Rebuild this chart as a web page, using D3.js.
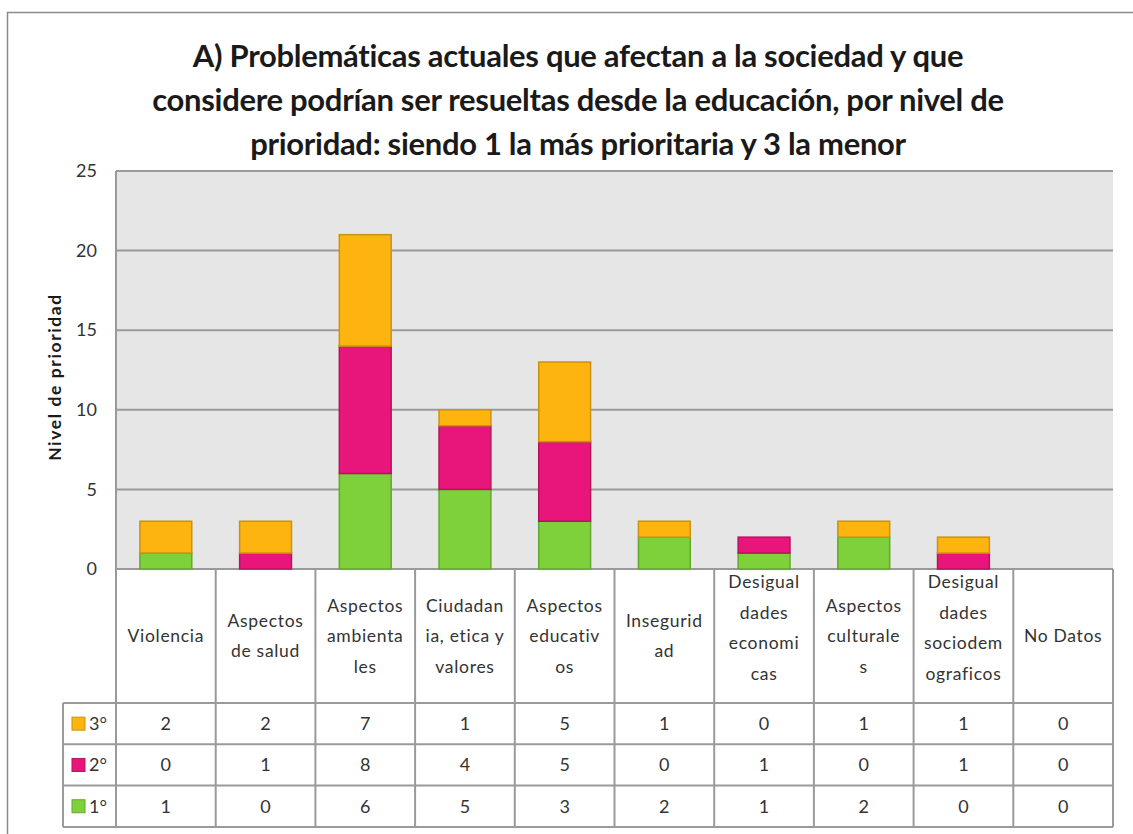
<!DOCTYPE html>
<html><head><meta charset="utf-8">
<script src="https://cdn.jsdelivr.net/npm/d3@7/dist/d3.min.js"></script>
<style>
body{margin:0;background:#fff;}
svg{display:block;}
</style></head>
<body>
<svg id="c" width="1133" height="834"></svg>
<script>
const categories = ["Violencia","Aspectos de salud","Aspectos ambientales","Ciudadania, etica y valores","Aspectos educativos","Inseguridad","Desigualdades economicas","Aspectos culturales","Desigualdades sociodemograficos","No Datos"];
const categoryLines = [["Violencia"],["Aspectos","de salud"],["Aspectos","ambienta","les"],["Ciudadan","ia, etica y","valores"],["Aspectos","educativ","os"],["Insegurid","ad"],["Desigual","dades","economi","cas"],["Aspectos","culturale","s"],["Desigual","dades","sociodem","ograficos"],["No Datos"]];
const seriesNames = ["1°","2°","3°"];
const primero = [1,0,6,5,3,2,1,2,0,0];
const segundo = [0,1,8,4,5,0,1,0,1,0];
const tercero = [2,2,7,1,5,1,0,1,1,0];
const yTicks = [0,5,10,15,20,25];
const titleLines = ["A) Problemáticas actuales que afectan a la sociedad y que","considere podrían ser resueltas desde la educación, por nivel de","prioridad: siendo 1 la más prioritaria y 3 la menor"];
const yTitle = "Nivel de prioridad";

const seriesValues = [primero, segundo, tercero];
const fills = ["#7FD13B","#E8167A","#FDB40F"];
const strokes = ["#62A82C","#B8125F","#C99212"];

const svg = d3.select("#c");
const font = "Lato, 'Open Sans', sans-serif";

// outer border
svg.append("rect").attr("x",7.5).attr("y",12.5).attr("width",1140).attr("height",840)
  .attr("fill","#fff").attr("stroke","#8a8a8a").attr("stroke-width",1.5);

// title
svg.append("g").selectAll("text").data(titleLines).join("text")
  .attr("x",578).attr("y",(d,i)=>67+i*44)
  .attr("text-anchor","middle").attr("font-family",font).attr("font-weight","bold")
  .attr("font-size",31).attr("letter-spacing",-0.3).attr("fill","#1a1a1a").text(d=>d);

const pLeft=116, pRight=1113, pTop=171, pBottom=569;
const x = d3.scaleBand().domain(categories).range([pLeft,pRight]).paddingInner(0).paddingOuter(0);
const y = d3.scaleLinear().domain([0,25]).range([pBottom,pTop]);

// plot background
svg.append("rect").attr("x",pLeft).attr("y",pTop).attr("width",pRight-pLeft).attr("height",pBottom-pTop)
  .attr("fill","#E6E6E6");
svg.append("line").attr("x1",pLeft).attr("x2",pLeft).attr("y1",pTop).attr("y2",pBottom)
  .attr("stroke","#999").attr("stroke-width",2);

// grid
svg.append("g").selectAll("line").data(yTicks).join("line")
  .attr("x1",pLeft).attr("x2",pRight).attr("y1",d=>y(d)).attr("y2",d=>y(d))
  .attr("stroke","#9a9a9a").attr("stroke-width",2);

// y axis labels
const yAxis = d3.axisLeft(y).tickValues(yTicks).tickSize(0).tickPadding(0);
const ya = svg.append("g").attr("transform",`translate(${pLeft-19},0)`).call(yAxis);
ya.select(".domain").remove();
ya.selectAll("text").attr("font-family",font).attr("font-size",18).attr("fill","#333").attr("text-anchor","end");

// y title
svg.append("text").attr("transform",`translate(61,377) rotate(-90)`)
  .attr("text-anchor","middle").attr("font-family",font).attr("font-weight","bold")
  .attr("font-size",17.5).attr("letter-spacing",1.6).attr("fill","#1a1a1a").text(yTitle);

// stacked bars
const rows = categories.map((c,i)=>({cat:c, s0:primero[i], s1:segundo[i], s2:tercero[i]}));
const stack = d3.stack().keys(["s0","s1","s2"])(rows);
const bw = x.bandwidth()*0.52;
svg.append("g").selectAll("g").data(stack).join("g")
  .attr("fill",(d,i)=>fills[i]).attr("stroke",(d,i)=>strokes[i]).attr("stroke-width",1.5)
  .selectAll("rect").data(d=>d.filter(p=>p[1]-p[0]>0)).join("rect")
  .attr("x",d=>x(d.data.cat)+(x.bandwidth()-bw)/2)
  .attr("width",bw)
  .attr("y",d=>y(d[1])).attr("height",d=>y(d[0])-y(d[1]));

// table
const tableTop = pBottom, headerBottom = 703, rowH = 41.3;
const legendLeft = 63;
const tg = svg.append("g");
const lineColor = "#9a9a9a";
categories.forEach((c,i)=>{
  tg.append("line").attr("x1",x(c)).attr("x2",x(c)).attr("y1",tableTop).attr("y2",headerBottom+3*rowH)
    .attr("stroke",lineColor).attr("stroke-width",2);
});
tg.append("line").attr("x1",pRight).attr("x2",pRight).attr("y1",tableTop).attr("y2",headerBottom+3*rowH)
  .attr("stroke",lineColor).attr("stroke-width",2);
tg.append("line").attr("x1",legendLeft).attr("x2",legendLeft).attr("y1",headerBottom).attr("y2",headerBottom+3*rowH)
  .attr("stroke",lineColor).attr("stroke-width",2);
[0,1,2,3].forEach(k=>{
  tg.append("line").attr("x1",legendLeft).attr("x2",pRight).attr("y1",headerBottom+k*rowH).attr("y2",headerBottom+k*rowH)
    .attr("stroke",lineColor).attr("stroke-width",2);
});
const lh = 30.5;
categories.forEach((c,i)=>{
  const lines = categoryLines[i];
  const cy = lines.length > 3 ? 628 : 636;
  const t = tg.append("text").attr("x",x(c)+x.bandwidth()/2).attr("text-anchor","middle")
    .attr("font-family",font).attr("font-size",17.5).attr("letter-spacing",0.7).attr("fill","#333");
  lines.forEach((l,j)=>{
    t.append("tspan").attr("x",x(c)+x.bandwidth()/2)
      .attr("y",cy + (j-(lines.length-1)/2)*lh + 6).text(l);
  });
});
const rowOrder = [2,1,0];
rowOrder.forEach((si,r)=>{
  const cy = headerBottom + r*rowH + rowH/2;
  tg.append("rect").attr("x",72).attr("y",cy-6.5).attr("width",13).attr("height",13)
    .attr("fill",fills[si]).attr("stroke",strokes[si]).attr("stroke-width",1);
  tg.append("text").attr("x",89).attr("y",cy+6.5).attr("font-family",font).attr("font-size",18)
    .attr("fill","#333").text(seriesNames[si]);
  categories.forEach((c,i)=>{
    tg.append("text").attr("x",x(c)+x.bandwidth()/2).attr("y",cy+6.5).attr("text-anchor","middle")
      .attr("font-family",font).attr("font-size",18).attr("fill","#333").text(seriesValues[si][i]);
  });
});
</script>
</body></html>
